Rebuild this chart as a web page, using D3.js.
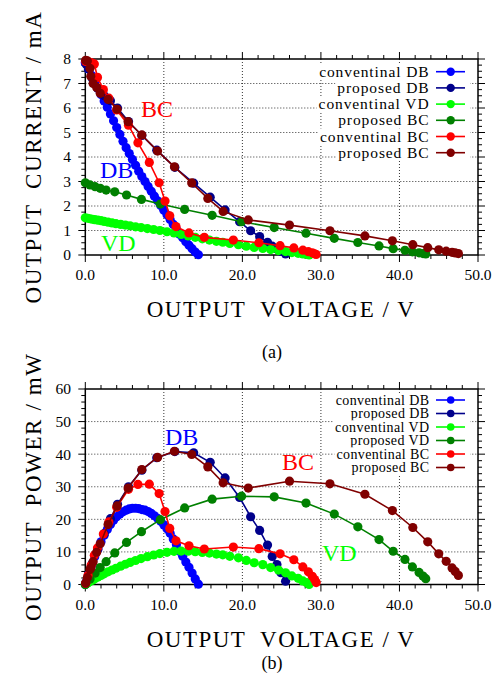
<!DOCTYPE html>
<html>
<head>
<meta charset="utf-8">
<script src="https://cdn.jsdelivr.net/npm/d3@7"></script>
<style>
body { margin: 0; background: #fff; }
</style>
</head>
<body>
<script>
// conventional DB
var cdbV = [0, 0.4, 0.8, 1.2, 1.6, 2.0, 2.4, 2.8, 3.2, 3.6, 4.0, 4.4, 4.8, 5.2, 5.6, 6.0, 6.4, 6.8, 7.2, 7.6, 8.0, 8.4, 8.8, 9.2, 9.6, 10.0, 10.4, 10.8, 11.2, 11.6, 12.0, 12.4, 12.8, 13.2, 13.6, 14.0, 14.4];
var cdbI = [7.85, 7.59, 7.33, 7.07, 6.81, 6.55, 6.29, 6.03, 5.76, 5.48, 5.20, 4.92, 4.64, 4.38, 4.14, 3.90, 3.66, 3.42, 3.20, 3.00, 2.80, 2.60, 2.40, 2.21, 2.02, 1.83, 1.64, 1.45, 1.25, 1.05, 0.85, 0.70, 0.54, 0.40, 0.26, 0.12, 0.01];
var cdbP = [0, 3.0, 5.9, 8.5, 10.9, 13.1, 15.1, 16.9, 18.4, 19.7, 20.8, 21.6, 22.3, 22.8, 23.2, 23.4, 23.4, 23.3, 23.0, 22.8, 22.4, 21.8, 21.1, 20.3, 19.4, 18.3, 17.1, 15.7, 14.0, 12.2, 10.2, 8.7, 6.9, 5.3, 3.5, 1.7, 0.1];
// proposed DB
var pdbV = [0.1, 0.4, 0.9, 1.6, 2.4, 3.2, 4.1, 5.5, 7.2, 9.1, 11.4, 13.8, 15.9, 17.8, 19.65, 21.05, 22.2, 23.2, 23.8, 24.4, 24.9, 25.5];
var pdbI = [7.8, 7.6, 7.2, 6.8, 6.5, 6.3, 6.0, 5.45, 4.88, 4.28, 3.58, 2.93, 2.36, 1.84, 1.36, 0.99, 0.75, 0.52, 0.36, 0.25, 0.145, 0.04];
var pdbP = [0.8, 3.0, 6.5, 10.9, 15.6, 20.2, 24.6, 30.0, 35.1, 38.9, 40.8, 40.4, 37.5, 32.7, 26.7, 20.8, 16.6, 12.1, 8.6, 6.1, 3.6, 1.0];
// conventional VD
var cvdV = [0, 0.3, 0.6, 0.9, 1.2, 1.6, 2.0, 2.4, 2.9, 3.4, 3.9, 4.5, 5.1, 5.7, 6.4, 7.1, 7.9, 8.7, 9.5, 10.4, 11.3, 12.2, 13.1, 14.0, 14.9, 15.8, 16.7, 17.5, 18.4, 19.5, 20.5, 21.5, 22.6, 23.6, 24.6, 25.5, 26.3, 27.1, 27.7, 28.2, 28.5];
var cvdI = [1.52, 1.50, 1.48, 1.46, 1.44, 1.42, 1.40, 1.37, 1.34, 1.31, 1.28, 1.25, 1.22, 1.19, 1.15, 1.12, 1.08, 1.04, 1.00, 0.95, 0.90, 0.84, 0.78, 0.72, 0.66, 0.61, 0.56, 0.52, 0.47, 0.42, 0.36, 0.31, 0.27, 0.22, 0.18, 0.14, 0.10, 0.07, 0.04, 0.02, 0.0];
var cvdP = [0, 0.45, 0.89, 1.31, 1.73, 2.27, 2.80, 3.29, 3.89, 4.45, 4.99, 5.63, 6.22, 6.78, 7.36, 7.95, 8.53, 9.05, 9.50, 9.88, 10.17, 10.25, 10.22, 10.08, 9.83, 9.64, 9.35, 9.10, 8.65, 8.19, 7.38, 6.67, 6.10, 5.19, 4.43, 3.57, 2.63, 1.90, 1.11, 0.56, 0];
// proposed VD
var pvdV = [0, 0.6, 1.25, 1.9, 2.65, 3.75, 5.25, 7.15, 9.55, 12.65, 16.15, 19.9, 24.05, 28.1, 31.7, 34.7, 37.4, 39.2, 40.7, 41.65, 42.5, 43.0, 43.35];
var pvdI = [2.95, 2.86, 2.79, 2.72, 2.65, 2.58, 2.45, 2.27, 2.08, 1.86, 1.62, 1.36, 1.12, 0.89, 0.68, 0.51, 0.37, 0.26, 0.19, 0.13, 0.087, 0.06, 0.042];
var pvdP = [0, 1.7, 3.5, 5.2, 7.0, 9.7, 12.9, 16.2, 19.9, 23.5, 26.2, 27.1, 26.9, 25.0, 21.6, 17.7, 13.8, 10.2, 7.7, 5.4, 3.7, 2.6, 1.8];
// conventional BC
var cbcV = [0.05, 0.35, 0.75, 1.15, 1.55, 2.3, 3.0, 4.0, 5.5, 6.7, 8.15, 9.4, 10.15, 10.75, 11.55, 13.2, 15.15, 18.85, 22.1, 24.8, 26.55, 27.7, 28.4, 28.9, 29.2, 29.4];
var cbcI = [7.9, 7.9, 7.85, 7.8, 7.25, 6.75, 6.4, 5.92, 5.3, 4.58, 3.78, 2.95, 2.2, 1.6, 1.16, 0.9, 0.72, 0.61, 0.5, 0.38, 0.29, 0.195, 0.137, 0.087, 0.05, 0.02];
var cbcP = [0.4, 2.8, 5.9, 9.0, 11.2, 15.5, 19.2, 23.7, 29.2, 30.7, 30.8, 27.9, 22.4, 17.2, 13.4, 11.9, 10.9, 11.5, 11.0, 9.4, 7.6, 5.4, 3.9, 2.5, 1.5, 0.6];
// proposed BC
var pbcV = [0.05, 0.26, 0.6, 0.7, 1.0, 1.45, 1.9, 2.9, 4.05, 5.45, 7.2, 9.2, 11.35, 13.55, 15.6, 17.55, 20.75, 26.0, 31.15, 35.6, 39.1, 41.7, 43.6, 45.0, 45.95, 46.7, 47.1, 47.5];
var pbcI = [7.95, 7.92, 7.62, 7.3, 7.0, 6.84, 6.6, 6.35, 5.95, 5.44, 4.9, 4.24, 3.6, 2.94, 2.31, 1.78, 1.43, 1.22, 0.99, 0.78, 0.58, 0.42, 0.30, 0.21, 0.155, 0.11, 0.085, 0.06];
var pbcP = [0.4, 2.1, 4.6, 5.1, 7.0, 9.9, 12.5, 18.4, 24.1, 29.6, 35.3, 39.0, 40.9, 39.9, 36.1, 31.2, 29.6, 31.7, 30.9, 27.7, 22.7, 17.5, 13.1, 9.4, 7.1, 5.1, 4.0, 2.8];

var colors = ["#0000ff", "#00008b", "#00ff00", "#008000", "#ff0000", "#800000"];
var namesTop = ["conventinal DB", "proposed DB", "conventinal VD", "proposed BC", "conventinal BC", "proposed BC"];
var namesBottom = ["conventinal DB", "proposed DB", "conventinal VD", "proposed VD", "conventinal BC", "proposed BC"];
var xTicks = [0, 10, 20, 30, 40, 50];

var series = [
  {v: cdbV, i: cdbI, p: cdbP},
  {v: pdbV, i: pdbI, p: pdbP},
  {v: cvdV, i: cvdI, p: cvdP},
  {v: pvdV, i: pvdI, p: pvdP},
  {v: cbcV, i: cbcI, p: cbcP},
  {v: pbcV, i: pbcI, p: pbcP}
];

var svg = d3.select("body").append("svg").attr("width", 503).attr("height", 679)
  .attr("font-family", "'Liberation Serif', 'DejaVu Serif', serif");

function panel(o) {
  var x = d3.scaleLinear().domain([0, 50]).range([85.3, 478]);
  var y = d3.scaleLinear().domain([0, o.ymax]).range([o.bottom, o.top]);
  var g = svg.append("g");

  // dotted grid
  g.selectAll(".gx").data(xTicks.slice(1, -1)).enter().append("line")
    .attr("x1", d => x(d)).attr("x2", d => x(d)).attr("y1", o.top).attr("y2", o.bottom)
    .attr("stroke", "#000").attr("stroke-width", 0.8).attr("stroke-dasharray", "1,2");
  g.selectAll(".gy").data(o.yTicks.slice(1, -1)).enter().append("line")
    .attr("y1", d => y(d)).attr("y2", d => y(d)).attr("x1", x(0)).attr("x2", x(50))
    .attr("stroke", "#000").attr("stroke-width", 0.8).attr("stroke-dasharray", "1,2");

  // ticks, all outward
  var xMinor = d3.range(0, 50.01, 2);
  var yMinor = d3.range(0, o.ymax + 0.001, o.yMinorStep);
  xMinor.forEach(function (d) {
    var len = (d % 10 === 0) ? 7 : 4;
    g.append("line").attr("x1", x(d)).attr("x2", x(d)).attr("y1", o.bottom).attr("y2", o.bottom + len).attr("stroke", "#000");
    g.append("line").attr("x1", x(d)).attr("x2", x(d)).attr("y1", o.top).attr("y2", o.top - len).attr("stroke", "#000");
  });
  yMinor.forEach(function (d) {
    var len = o.yTicks.indexOf(+d.toFixed(3)) >= 0 ? 7 : 4;
    g.append("line").attr("y1", y(d)).attr("y2", y(d)).attr("x1", x(0)).attr("x2", x(0) - len).attr("stroke", "#000");
    g.append("line").attr("y1", y(d)).attr("y2", y(d)).attr("x1", x(50)).attr("x2", x(50) + len).attr("stroke", "#000");
  });

  g.append("rect").attr("x", x(0)).attr("y", o.top).attr("width", x(50) - x(0)).attr("height", o.bottom - o.top)
    .attr("fill", "none").attr("stroke", "#000").attr("stroke-width", 1.5);

  // tick labels
  g.selectAll(".xl").data(xTicks).enter().append("text")
    .attr("x", d => x(d)).attr("y", o.bottom + 25).attr("text-anchor", "middle")
    .attr("font-size", 15.5).text(d => d3.format(".1f")(d));
  g.selectAll(".yl").data(o.yTicks).enter().append("text")
    .attr("x", 71).attr("y", d => y(d)).attr("dy", "0.35em").attr("text-anchor", "end")
    .attr("font-size", 15.5).text(d => d);

  // axis titles
  g.append("text").attr("x", 281).attr("y", o.bottom + 62).attr("text-anchor", "middle")
    .attr("font-size", 23).attr("letter-spacing", 1.5).attr("xml:space", "preserve")
    .text("OUTPUT  VOLTAGE / V");
  g.append("text").attr("transform", "translate(41," + ((o.top + o.bottom) / 2) + ") rotate(-90)")
    .attr("text-anchor", "middle").attr("font-size", 23).attr("letter-spacing", 1.6).attr("xml:space", "preserve")
    .text(o.ytitle);
  g.append("text").attr("x", 272).attr("y", o.capY).attr("text-anchor", "middle").attr("font-size", 18).text(o.cap);

  // data
  series.forEach(function (s, k) {
    var pts = s.v.map((v, j) => [v, s[o.key][j]]);
    g.append("path").datum(pts)
      .attr("d", d3.line().x(d => x(d[0])).y(d => y(d[1])))
      .attr("fill", "none").attr("stroke", colors[k]).attr("stroke-width", 1.6);
    g.selectAll(".m" + k).data(pts).enter().append("circle")
      .attr("cx", d => x(d[0])).attr("cy", d => y(d[1])).attr("r", 4.6).attr("fill", colors[k]);
  });

  // in-plot labels
  o.labels.forEach(function (l) {
    g.append("text").attr("x", l.x).attr("y", l.y).attr("font-size", 24).attr("fill", l.c).text(l.t);
  });

  // legend
  o.names.forEach(function (n, k) {
    var ry = o.legY + k * o.legStep;
    var row = g.append("g");
    var bg = row.append("rect").attr("fill", "#fff");
    var t = row.append("text").attr("x", 429.5).attr("y", ry).attr("dy", "0.33em")
      .attr("text-anchor", "end").attr("font-size", o.legFont).attr("letter-spacing", o.legLs).text(n);
    var bb = t.node().getBBox();
    bg.attr("x", bb.x - 2).attr("y", ry - o.legStep / 2).attr("width", 470 - bb.x + 2).attr("height", o.legStep);
    row.append("line").attr("x1", 436).attr("x2", 465).attr("y1", ry).attr("y2", ry)
      .attr("stroke", colors[k]).attr("stroke-width", 1.6);
    row.append("circle").attr("cx", 450.7).attr("cy", ry).attr("r", o.legR).attr("fill", colors[k]);
  });
}

panel({
  key: "i", ymax: 8, top: 59, bottom: 255, yTicks: [0, 1, 2, 3, 4, 5, 6, 7, 8], yMinorStep: 0.25,
  ytitle: "OUTPUT  CURRENT / mA", cap: "(a)", capY: 358,
  names: namesTop, legY: 71.7, legStep: 16.2, legFont: 15.5, legLs: 0.9, legR: 4.2,
  labels: [{t: "BC", x: 141, y: 117, c: "#ff0000"}, {t: "DB", x: 100, y: 178, c: "#0000ff"}, {t: "VD", x: 101, y: 251, c: "#00ff00"}]
});

panel({
  key: "p", ymax: 60, top: 389, bottom: 584.5, yTicks: [0, 10, 20, 30, 40, 50, 60], yMinorStep: 2,
  ytitle: "OUTPUT  POWER / mW", cap: "(b)", capY: 669,
  names: namesBottom, legY: 400, legStep: 13.5, legFont: 14, legLs: 0.4, legR: 3.8,
  labels: [{t: "DB", x: 165, y: 445, c: "#0000ff"}, {t: "BC", x: 282, y: 470, c: "#ff0000"}, {t: "VD", x: 322, y: 561, c: "#00ff00"}]
});
</script>
</body>
</html>
